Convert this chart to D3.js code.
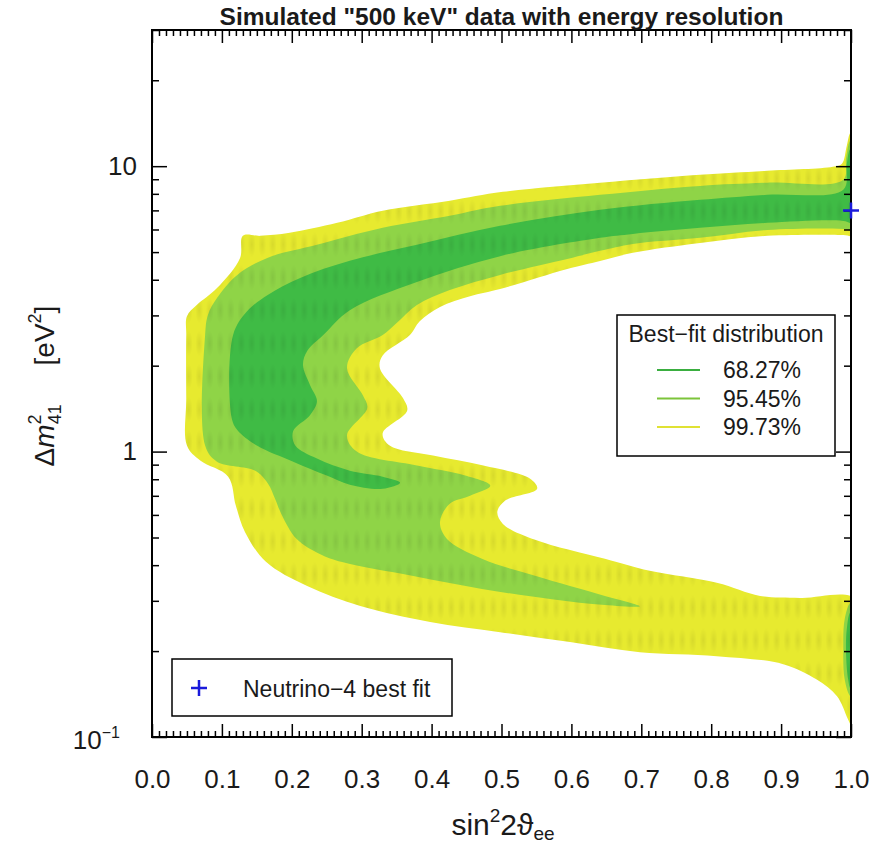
<!DOCTYPE html>
<html><head><meta charset="utf-8">
<script src="https://cdn.jsdelivr.net/npm/d3@7"></script>
<style>
body{margin:0;background:#fff;}
text{font-family:"Liberation Sans",Arial,Helvetica,sans-serif;fill:#1a1a1a;}
</style></head><body>
<svg id="chart" width="887" height="848"></svg>
<script>
// ---------- data ----------
const titleText = 'Simulated "500 keV" data with energy resolution';
const xMajor = [0,0.1,0.2,0.3,0.4,0.5,0.6,0.7,0.8,0.9,1.0];
const xMinor = d3.range(1,100).filter(i=>i%10!==0).map(i=>i/100);
const yMajor = [0.1,1,10];
const yMinor = [0.2,0.3,0.4,0.5,0.6,0.7,0.8,0.9,2,3,4,5,6,7,8,9,20,30];
const legendLevels = ["68.27%","95.45%","99.73%"];
const bestFit = [[1.0,7.0]];

// contour boundaries [sin^2 2theta, dm^2]
const level9973 = [
[1.012,13.6],[1.0,13.2],[0.994,11.8],[0.987,10.2],[0.974,9.96],[0.880,9.64],[0.784,9.33],
[0.641,8.75],[0.502,8.13],[0.426,7.57],[0.330,6.98],[0.265,6.33],[0.197,5.84],[0.155,5.70],
[0.130,5.70],[0.126,4.77],[0.093,3.74],[0.064,3.26],[0.050,2.98],[0.049,2.56],[0.049,1.54],
[0.050,1.05],[0.069,0.93],[0.109,0.817],[0.120,0.646],[0.133,0.523],[0.163,0.411],[0.222,0.338],
[0.298,0.288],[0.398,0.253],[0.498,0.233],[0.598,0.215],[0.698,0.198],[0.808,0.192],[0.903,0.180],
[0.951,0.159],[0.980,0.139],[0.996,0.115],[1.012,0.095],[1.012,0.30],[0.927,0.307],[0.870,0.312],
[0.808,0.347],[0.712,0.382],[0.648,0.421],[0.548,0.491],[0.502,0.558],[0.494,0.615],[0.505,0.673],
[0.551,0.741],[0.541,0.804],[0.474,0.893],[0.402,0.968],[0.340,1.05],[0.330,1.16],[0.365,1.39],
[0.359,1.54],[0.326,1.96],[0.330,2.17],[0.369,2.56],[0.383,2.86],[0.412,3.21],[0.455,3.50],
[0.498,3.71],[0.594,4.36],[0.641,4.65],[0.688,4.97],[0.784,5.38],[0.880,5.70],[0.989,5.74],[1.012,5.70]
];
const level9545 = [
[1.012,12.6],[1.0,12.4],[0.993,10.7],[0.989,8.97],[0.880,8.75],[0.784,8.53],[0.641,7.94],
[0.498,7.26],[0.426,6.70],[0.330,6.08],[0.236,5.30],[0.165,4.77],[0.122,4.16],[0.093,3.45],
[0.080,3.01],[0.076,2.56],[0.076,1.05],[0.093,0.922],[0.147,0.858],[0.166,0.772],[0.176,0.684],
[0.185,0.605],[0.207,0.494],[0.240,0.438],[0.272,0.410],[0.372,0.367],[0.472,0.330],[0.572,0.304],
[0.648,0.290],[0.698,0.287],[0.648,0.312],[0.548,0.367],[0.472,0.421],[0.422,0.494],[0.412,0.567],
[0.426,0.656],[0.455,0.700],[0.484,0.759],[0.448,0.824],[0.379,0.893],[0.293,1.00],[0.279,1.14],
[0.308,1.42],[0.302,1.57],[0.279,1.96],[0.293,2.30],[0.330,2.56],[0.350,2.82],[0.379,3.26],
[0.426,3.68],[0.498,4.16],[0.594,4.73],[0.641,5.05],[0.688,5.34],[0.784,5.61],[0.880,5.98],
[0.989,6.03],[1.012,5.93]
];
const level6827 = [
[1.012,11.8],[1.0,11.6],[0.994,10.2],[0.989,8.27],[0.880,7.94],[0.784,7.62],[0.641,7.03],
[0.498,6.18],[0.379,5.30],[0.283,4.66],[0.212,4.06],[0.165,3.53],[0.136,3.10],[0.116,2.56],
[0.114,1.31],[0.122,1.19],[0.150,1.05],[0.202,0.922],[0.250,0.824],[0.283,0.766],[0.330,0.741],
[0.355,0.778],[0.330,0.817],[0.283,0.857],[0.236,0.945],[0.205,1.05],[0.202,1.18],[0.226,1.34],
[0.236,1.50],[0.226,1.71],[0.216,2.01],[0.222,2.25],[0.245,2.56],[0.283,3.13],[0.379,3.93],
[0.498,4.84],[0.641,5.61],[0.688,5.79],[0.784,6.08],[0.880,6.33],[0.989,6.43],[1.012,6.23]
];
const lens9545 = [[1.012,0.30],[1.0,0.297],[0.991,0.259],[0.989,0.203],[0.991,0.159],[1.0,0.138],[1.012,0.135]];
const lens6827 = [[1.012,0.28],[1.0,0.276],[0.994,0.239],[0.993,0.195],[0.996,0.159],[1.0,0.147],[1.012,0.145]];

// ---------- styles ----------
const C99 = "#e7ea2f", C95 = "#8fd447", C68 = "#3fbb45";
const L68 = "#3aae40", L95 = "#7cc43a", L99 = "#e0e234";

const svg = d3.select("#chart");
const M = {left:152,right:851,top:30,bottom:737};
const x = d3.scaleLinear().domain([0,1]).range([M.left,M.right]);
const y = d3.scaleLog().domain([0.1,30]).range([M.bottom,M.top]);

const defs = svg.append("defs");
defs.append("clipPath").attr("id","clip").append("rect")
  .attr("x",M.left).attr("y",M.top).attr("width",M.right-M.left).attr("height",M.bottom-M.top);
const grad = defs.append("radialGradient").attr("id","spot");
grad.append("stop").attr("offset","0%").attr("stop-color","#000").attr("stop-opacity",0.07);
grad.append("stop").attr("offset","100%").attr("stop-color","#000").attr("stop-opacity",0);
const pat = defs.append("pattern").attr("id","tex").attr("patternUnits","userSpaceOnUse")
  .attr("x",M.left).attr("y",M.top).attr("width",10.5).attr("height",33);
pat.append("ellipse").attr("cx",5.25).attr("cy",16.5).attr("rx",4).attr("ry",13).attr("fill","url(#spot)");

const shape = d3.line().x(d=>x(d[0])).y(d=>y(d[1])).curve(d3.curveCatmullRomClosed.alpha(0.5));

const plot = svg.append("g").attr("clip-path","url(#clip)");
[[level9973,C99],[level9545,C95],[lens9545,C95],[level6827,C68],[lens6827,C68]].forEach(([pts,c])=>{
  plot.append("path").attr("d",shape(pts)).attr("fill",c);
});
plot.append("path").attr("d",shape(level9973)).attr("fill","url(#tex)");

// ---------- axes ----------
function styleAxis(g){ g.select(".domain").remove(); g.selectAll(".tick line").attr("stroke","#000").attr("stroke-width",1.5); }
svg.append("g").attr("transform",`translate(0,${M.bottom})`)
  .call(d3.axisBottom(x).tickValues(xMajor).tickFormat(d3.format(".1f")).tickSizeInner(-13).tickSizeOuter(0).tickPadding(33))
  .call(styleAxis).call(g=>g.selectAll("text").style("font-size","26px").attr("fill","#1a1a1a"));
svg.append("g").attr("transform",`translate(0,${M.bottom})`)
  .call(d3.axisBottom(x).tickValues(xMinor).tickFormat("").tickSizeInner(-6).tickSizeOuter(0)).call(styleAxis);
svg.append("g").attr("transform",`translate(0,${M.top})`)
  .call(d3.axisTop(x).tickValues(xMajor).tickFormat("").tickSizeInner(-13).tickSizeOuter(0)).call(styleAxis);
svg.append("g").attr("transform",`translate(0,${M.top})`)
  .call(d3.axisTop(x).tickValues(xMinor).tickFormat("").tickSizeInner(-6).tickSizeOuter(0)).call(styleAxis);

svg.append("g").attr("transform",`translate(${M.left},0)`)
  .call(d3.axisLeft(y).tickValues(yMajor).tickFormat(d=>d===0.1?"":d3.format("d")(d)).tickSizeInner(-15).tickSizeOuter(0).tickPadding(15))
  .call(styleAxis).call(g=>{
    g.selectAll("text").style("font-size","26px").attr("fill","#1a1a1a");
    const t = g.selectAll(".tick").filter(d=>d===0.1).select("text").attr("x",-32).attr("dy","0.45em");
    t.append("tspan").text("10");
    t.append("tspan").attr("dy",-11).style("font-size","16px").text("\u22121");
  });
svg.append("g").attr("transform",`translate(${M.left},0)`)
  .call(d3.axisLeft(y).tickValues(yMinor).tickFormat("").tickSizeInner(-7).tickSizeOuter(0)).call(styleAxis);
svg.append("g").attr("transform",`translate(${M.right},0)`)
  .call(d3.axisRight(y).tickValues(yMajor).tickFormat("").tickSizeInner(-15).tickSizeOuter(0)).call(styleAxis);
svg.append("g").attr("transform",`translate(${M.right},0)`)
  .call(d3.axisRight(y).tickValues(yMinor).tickFormat("").tickSizeInner(-7).tickSizeOuter(0)).call(styleAxis);

svg.append("rect").attr("x",M.left).attr("y",M.top).attr("width",M.right-M.left).attr("height",M.bottom-M.top)
  .attr("fill","none").attr("stroke","#000").attr("stroke-width",2);

// best fit marker
svg.selectAll(".bf").data(bestFit).enter().append("path").attr("class","bf")
  .attr("d",d=>`M${x(d[0])-8},${y(d[1])}h16M${x(d[0])},${y(d[1])-8}v16`)
  .attr("stroke","#1a1adb").attr("stroke-width",2.5).attr("fill","none");

// ---------- titles ----------
svg.append("text").attr("x",(M.left+M.right)/2).attr("y",25).attr("text-anchor","middle")
  .style("font-size","24.5px").style("font-weight","bold").text(titleText);

const xt = svg.append("text").attr("x",503).attr("y",835).attr("text-anchor","middle").style("font-size","30px");
xt.append("tspan").text("sin");
xt.append("tspan").attr("dy",-13).style("font-size","19px").text("2");
xt.append("tspan").attr("dy",13).text("2\u03d1");
xt.append("tspan").attr("dy",5).style("font-size","19px").text("ee");

const yt = svg.append("text").attr("transform","translate(54,386) rotate(-90)").attr("text-anchor","middle").style("font-size","28px");
yt.append("tspan").text("\u0394");
yt.append("tspan").style("font-style","italic").text("m");
yt.append("tspan").attr("dy",-13).style("font-size","18px").text("2");
yt.append("tspan").attr("dy",20).attr("dx",-10).style("font-size","18px").text("41");
yt.append("tspan").attr("dy",-7).text("\u00a0\u00a0\u00a0\u00a0\u00a0[eV");
yt.append("tspan").attr("dy",-13).style("font-size","18px").text("2");
yt.append("tspan").attr("dy",13).text("]");

// ---------- legends ----------
const lg = svg.append("g");
lg.append("rect").attr("x",617).attr("y",315).attr("width",218).attr("height",141)
  .attr("fill","#fff").attr("stroke","#000").attr("stroke-width",1.5);
lg.append("text").attr("x",726).attr("y",342).attr("text-anchor","middle").style("font-size","23px").text("Best\u2212fit distribution");
const lcol = [L68,L95,L99];
legendLevels.forEach((lab,i)=>{
  const yy = 370 + i*28.5;
  lg.append("line").attr("x1",657).attr("x2",700).attr("y1",yy).attr("y2",yy).attr("stroke",lcol[i]).attr("stroke-width",2);
  lg.append("text").attr("x",723).attr("y",yy+8).style("font-size","23px").text(lab);
});

const lg2 = svg.append("g");
lg2.append("rect").attr("x",172).attr("y",659).attr("width",280).attr("height",57)
  .attr("fill","#fff").attr("stroke","#000").attr("stroke-width",1.5);
lg2.append("path").attr("d","M191,688h16M199,680v16").attr("stroke","#1a1adb").attr("stroke-width",2.5);
lg2.append("text").attr("x",243).attr("y",697).style("font-size","23px").text("Neutrino\u22124 best fit");
</script></body></html>
